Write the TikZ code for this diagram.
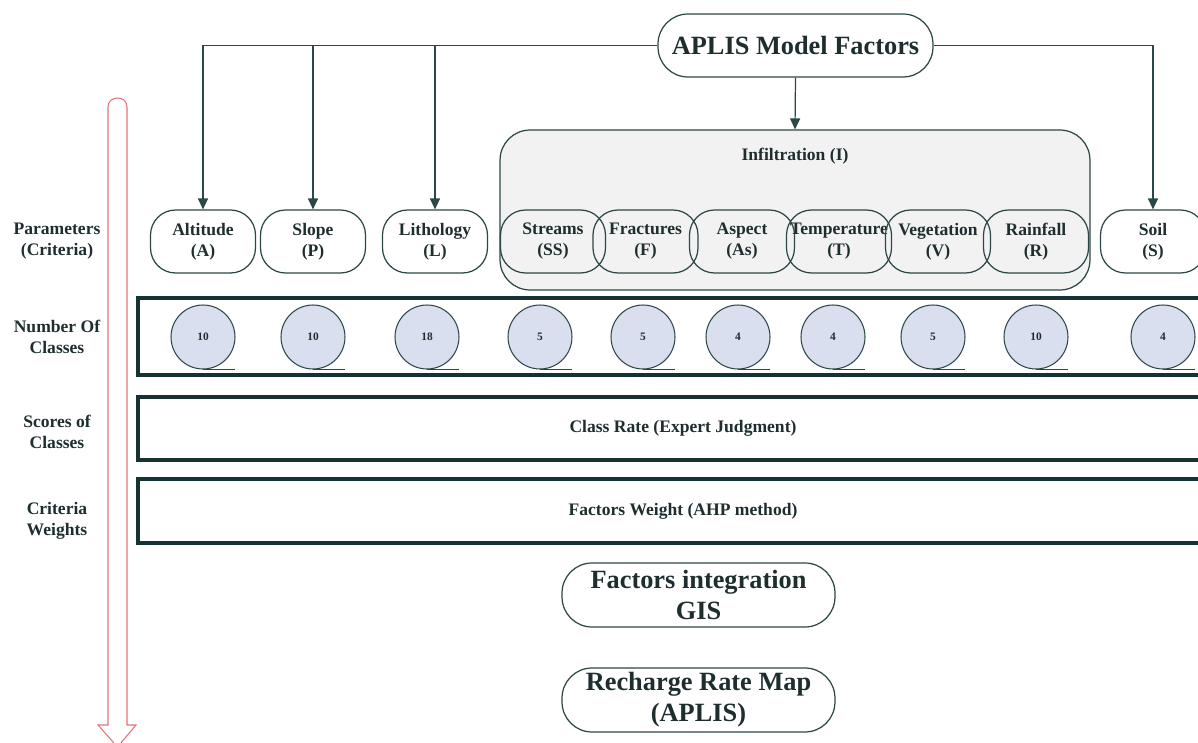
\documentclass[tikz,border=0pt]{standalone}
\usepackage{fontspec}
\setmainfont{Liberation Serif}
\usetikzlibrary{arrows.meta}
\definecolor{ln}{HTML}{2B4747}
\definecolor{dk}{HTML}{163232}
\definecolor{tx}{HTML}{1E2E2E}
\definecolor{cf}{HTML}{D9DFEF}
\definecolor{gf}{HTML}{F2F2F2}
\definecolor{rd}{HTML}{E57373}
\begin{document}
\begin{tikzpicture}[x=0.02cm,y=-0.02cm,
 param/.style={draw=ln, line width=0.7pt, rounded corners=0.5cm, minimum width=2.1cm, minimum height=1.26cm, align=center, font=\fontsize{10}{12}\selectfont\bfseries, text=tx, inner sep=1pt},
 big/.style={draw=ln, line width=0.7pt, rounded corners=0.6cm, align=center, font=\fontsize{15}{17.5}\selectfont\bfseries, text=tx, minimum width=5.46cm, minimum height=1.28cm, inner sep=1pt},
 rowlab/.style={align=center, font=\fontsize{10}{12}\selectfont\bfseries, text=tx},
 band/.style={draw=dk, line width=2.6pt, minimum width=21.8cm, font=\fontsize{10}{12}\selectfont\bfseries, text=tx},
 num/.style={circle, draw=ln, line width=0.6pt, fill=cf, minimum size=1.28cm, inner sep=0pt, font=\fontsize{6.5}{7}\selectfont\bfseries, text=tx},
 arr/.style={draw=ln, line width=0.7pt, -{Triangle[width=0.2cm,length=0.22cm]}},
]
\useasboundingbox (0,0) rectangle (1198,743);

% red progress arrow
\draw[rd, line width=0.6pt] (108,725) -- (108,107) .. controls (108,95) and (127,95) .. (127,107) -- (127,725) -- (136,725) -- (117.5,747) -- (98,725) -- cycle;

% top node
\node[big, minimum width=5.5cm, minimum height=1.26cm] (aplis) at (795.5,45.5) {APLIS Model Factors};

% infiltration container
\node[draw=ln, fill=gf, line width=0.7pt, rounded corners=0.6cm, minimum width=11.8cm, minimum height=3.2cm] (infil) at (795,210) {};
\node[font=\fontsize{10}{12}\selectfont\bfseries, text=tx] (infiltxt) at (795,156) {Infiltration (I)};

% parameter nodes
\node[param] (alt) at (203,241.5) {Altitude\\(A)};
\node[param] (slope) at (313,241.5) {Slope\\(P)};
\node[param] (lith) at (435,241.5) {Lithology\\(L)};
\node[param] (ss) at (553,241.5) {Streams\\(SS)};
\node[param] (fr) at (645.5,241.5) {Fractures\\(F)};
\node[param] (as) at (742,241.5) {Aspect\\(As)};
\node[param] (tm) at (839,241.5) {Temperature\\(T)};
\node[param] (vg) at (938,241.5) {Vegetation\\(V)};
\node[param] (rf) at (1036,241.5) {Rainfall\\(R)};
\node[param] (soil) at (1153,241.5) {Soil\\(S)};

% connectors
\draw[arr] (aplis.west) -| (alt.north);
\draw[arr] (aplis.west) -| (slope.north);
\draw[arr] (aplis.west) -| (lith.north);
\draw[arr] (aplis.east) -| (soil.north);
\draw[arr] (aplis.south) -- (infil.north);

% row labels
\node[rowlab] (l1) at (57,241) {Parameters\\(Criteria)};
\node[rowlab] (l2) at (57,337) {Number Of\\Classes};
\node[rowlab] (l3) at (57,432) {Scores of\\Classes};
\node[rowlab] (l4) at (57,521) {Criteria\\Weights};

% bands
\node[band, minimum height=1.54cm] (b1) at (683,336.5) {};
\node[band, minimum height=1.26cm] (b2) at (683,428.5) {Class Rate (Expert Judgment)};
\node[band, minimum height=1.28cm] (b3) at (683,511) {Factors Weight (AHP method)};

% number circles
\foreach \n/\xx/\v in {n1/203/10, n2/313/10, n3/427/18, n4/540/5, n5/643/5, n6/738/4, n7/833/4, n8/933/5, n9/1036/10, n10/1163/4}{
  \node[num] (\n) at (\xx,337) {\v};
  \draw[ln, line width=0.5pt] (\n.south) -- ++(32,0);
}

% bottom nodes
\node[big] (gis) at (698.5,595) {Factors integration\\GIS};
\node[big] (map) at (698.5,700) {Recharge Rate Map\\(APLIS)};
\end{tikzpicture}
\end{document}
